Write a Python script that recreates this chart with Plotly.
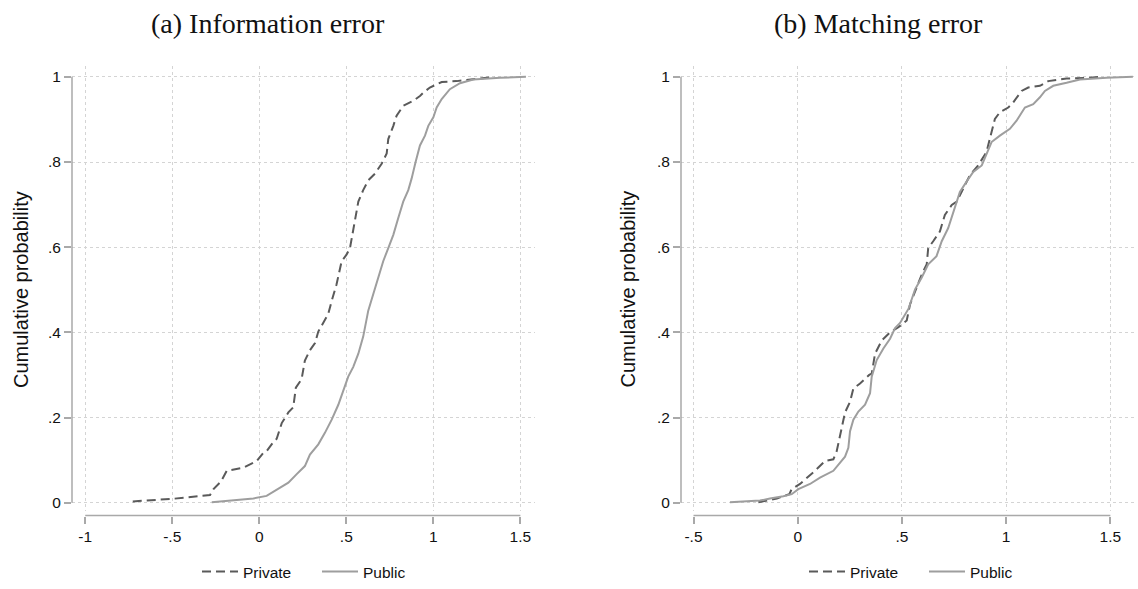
import plotly.graph_objects as go

# ---------------- data ----------------
info_private_x = [-0.727, -0.5, -0.283, -0.263, -0.22, -0.187, -0.092, -0.034, -0.015, 0.023, 0.042, 0.080, 0.1,
                  0.129, 0.167, 0.195, 0.21, 0.243, 0.262, 0.291, 0.32, 0.339, 0.396, 0.416, 0.444, 0.473, 0.502,
                  0.521, 0.540, 0.569, 0.597, 0.626, 0.665, 0.703, 0.732, 0.741, 0.770, 0.789, 0.827, 0.885, 0.923,
                  0.943, 0.980, 1.048, 1.134, 1.2, 1.25, 1.35]
info_private_y = [0.003, 0.009, 0.018, 0.032, 0.05, 0.075, 0.082, 0.094, 0.098, 0.117, 0.121, 0.142, 0.150,
                  0.187, 0.212, 0.224, 0.27, 0.29, 0.334, 0.358, 0.375, 0.402, 0.443, 0.474, 0.513, 0.567, 0.583,
                  0.598, 0.645, 0.707, 0.734, 0.757, 0.773, 0.796, 0.820, 0.854, 0.885, 0.909, 0.932, 0.944, 0.955,
                  0.963, 0.975, 0.988, 0.990, 0.993, 0.997, 1.0]

info_public_x = [-0.273, -0.149, -0.034, 0.042, 0.1, 0.167, 0.215, 0.262, 0.291, 0.339, 0.377, 0.416, 0.454,
                 0.483, 0.511, 0.540, 0.569, 0.597, 0.626, 0.655, 0.684, 0.712, 0.741, 0.770, 0.798, 0.827, 0.856,
                 0.875, 0.898, 0.923, 0.952, 0.971, 1.0, 1.019, 1.048, 1.095, 1.153, 1.229, 1.383, 1.532]
info_public_y = [0.001, 0.005, 0.01, 0.016, 0.030, 0.047, 0.067, 0.086, 0.113, 0.137, 0.164, 0.195, 0.230,
                 0.265, 0.296, 0.319, 0.350, 0.390, 0.451, 0.490, 0.529, 0.567, 0.598, 0.629, 0.668, 0.707, 0.734,
                 0.761, 0.800, 0.839, 0.862, 0.885, 0.905, 0.928, 0.948, 0.971, 0.985, 0.994, 0.998, 1.0]

match_private_x = [-0.189, -0.1, -0.04, -0.029, 0.011, 0.083, 0.131, 0.171, 0.187, 0.211, 0.227, 0.251, 0.267,
                   0.299, 0.343, 0.355, 0.371, 0.403, 0.443, 0.483, 0.523, 0.539, 0.563, 0.595, 0.619, 0.626,
                   0.650, 0.682, 0.706, 0.739, 0.763, 0.787, 0.826, 0.866, 0.906, 0.922, 0.946, 0.970, 1.010,
                   1.034, 1.074, 1.106, 1.162, 1.202, 1.290, 1.402, 1.45]
match_private_y = [0.001, 0.01, 0.02, 0.032, 0.044, 0.075, 0.098, 0.102, 0.121, 0.179, 0.212, 0.237, 0.268,
                   0.280, 0.300, 0.303, 0.350, 0.381, 0.400, 0.412, 0.428, 0.466, 0.498, 0.536, 0.560, 0.598,
                   0.614, 0.637, 0.676, 0.699, 0.707, 0.730, 0.769, 0.792, 0.824, 0.855, 0.901, 0.917, 0.928,
                   0.940, 0.967, 0.975, 0.979, 0.990, 0.996, 0.998, 1.0]

match_public_x = [-0.325, -0.181, -0.133, -0.069, -0.029, 0.003, 0.059, 0.107, 0.171, 0.203, 0.227, 0.243,
                  0.251, 0.267, 0.291, 0.323, 0.347, 0.355, 0.379, 0.411, 0.443, 0.467, 0.491, 0.531, 0.563,
                  0.595, 0.626, 0.666, 0.691, 0.722, 0.754, 0.778, 0.810, 0.842, 0.883, 0.906, 0.930, 0.970,
                  1.018, 1.050, 1.090, 1.130, 1.162, 1.186, 1.226, 1.290, 1.354, 1.482, 1.608]
match_public_y = [0.001, 0.005, 0.01, 0.015, 0.02, 0.032, 0.044, 0.059, 0.075, 0.095, 0.108, 0.129,
                  0.168, 0.195, 0.214, 0.230, 0.257, 0.296, 0.335, 0.362, 0.385, 0.41, 0.422, 0.455, 0.501,
                  0.529, 0.560, 0.579, 0.614, 0.645, 0.692, 0.730, 0.754, 0.777, 0.792, 0.820, 0.847, 0.862,
                  0.878, 0.897, 0.928, 0.936, 0.952, 0.967, 0.979, 0.986, 0.994, 0.998, 1.0]

panel_titles = ["(a) Information error", "(b) Matching error"]
series_names = ["Private", "Public"]
y_title = "Cumulative probability"
y_tickvals = [0, 0.2, 0.4, 0.6, 0.8, 1]
y_ticktext = ["0", ".2", ".4", ".6", ".8", "1"]
x1_tickvals = [-1, -0.5, 0, 0.5, 1, 1.5]
x1_ticktext = ["-1", "-.5", "0", ".5", "1", "1.5"]
x2_tickvals = [-0.5, 0, 0.5, 1, 1.5]
x2_ticktext = ["-.5", "0", ".5", "1", "1.5"]

# ---------------- layout geometry ----------------
W, H = 1138, 589
def px_x(p): return p / W
def px_y(p): return 1 - p / H

dom_y = [px_y(515), px_y(67)]
dom_x1 = [px_x(72), px_x(535)]
dom_x2 = [px_x(681), px_x(1136)]
yrange = [-0.0186, 1.0245]
x1range = [-1.076, 1.584]
x2range = [-0.560, 1.623]
xaxis_pos = px_y(520)

SANS = "Liberation Sans, Arial, sans-serif"
SERIF = "Liberation Serif, Times New Roman, serif"
AX = "#a9a9a9"
GRID = "#d4d4d4"
PRIV = "#5a5a5a"
PUB = "#9e9e9e"

fig = go.Figure()
def add(xs, ys, name, xa, ya, leg, dash, color):
    fig.add_trace(go.Scatter(x=xs, y=ys, mode="lines", name=name, xaxis=xa, yaxis=ya, legend=leg,
                             line=dict(color=color, width=2, dash=dash), hoverinfo="skip"))

add(info_private_x, info_private_y, series_names[0], "x", "y", "legend", "9px,5px", PRIV)
add(info_public_x, info_public_y, series_names[1], "x", "y", "legend", "solid", PUB)
add(match_private_x, match_private_y, series_names[0], "x2", "y2", "legend2", "9px,5px", PRIV)
add(match_public_x, match_public_y, series_names[1], "x2", "y2", "legend2", "solid", PUB)

tickfont = dict(family=SANS, size=15.5, color="#111")
def xax(dom, rng, tv, tt):
    return dict(domain=dom, range=rng, anchor="free", position=xaxis_pos, showline=False,
                tickmode="array", tickvals=tv, ticktext=tt, ticks="outside", ticklen=7, tickwidth=1.5,
                tickcolor=AX, tickfont=tickfont, showgrid=True, gridcolor=GRID, gridwidth=1, griddash="dot",
                zeroline=False, fixedrange=True)
def yax(anchor, rng):
    return dict(domain=dom_y, range=rng, anchor=anchor, showline=False, tickmode="array",
                tickvals=y_tickvals, ticktext=y_ticktext, ticks="outside", ticklen=7, tickwidth=1.5,
                tickcolor=AX, tickfont=tickfont, showgrid=True, gridcolor=GRID, gridwidth=1, griddash="dot",
                zeroline=False, fixedrange=True)

leg_common = dict(orientation="h", yanchor="middle", font=dict(family=SANS, size=15.5, color="#111"),
                  bgcolor="rgba(0,0,0,0)", itemwidth=36, entrywidth=69, entrywidthmode="pixels",
                  tracegroupgap=0)
fig.update_layout(
    width=W, height=H, margin=dict(l=0, r=0, t=0, b=0),
    paper_bgcolor="white", plot_bgcolor="white",
    xaxis=xax(dom_x1, x1range, x1_tickvals, x1_ticktext),
    yaxis=yax("x", yrange),
    xaxis2=xax(dom_x2, x2range, x2_tickvals, x2_ticktext),
    yaxis2=yax("x2", yrange),
    legend=dict(x=px_x(197), xanchor="left", y=px_y(577), **leg_common),
    legend2=dict(x=px_x(804), xanchor="left", y=px_y(577), **leg_common),
    showlegend=True,
)

# axis lines (Stata style: spanning only the labelled tick range)
for xa, ya, xdom, xt in [("x", "y", dom_x1, x1_tickvals), ("x2", "y2", dom_x2, x2_tickvals)]:
    fig.add_shape(type="line", xref=xa, yref="paper", x0=min(xt), x1=max(xt), y0=xaxis_pos, y1=xaxis_pos,
                  line=dict(color=AX, width=1.5), layer="above")
    fig.add_shape(type="line", xref="paper", yref=ya, x0=xdom[0], x1=xdom[0], y0=min(y_tickvals),
                  y1=max(y_tickvals), line=dict(color=AX, width=1.5), layer="above")

# panel titles and y-axis titles
for cx, t in zip([px_x(268), px_x(878)], panel_titles):
    fig.add_annotation(text=t, x=cx, y=px_y(24), xref="paper", yref="paper", showarrow=False,
                       xanchor="center", yanchor="middle", font=dict(family=SERIF, size=28, color="#111"))
for cx in [px_x(20.5), px_x(628)]:
    fig.add_annotation(text=y_title, x=cx, y=px_y(292), xref="paper", yref="paper", showarrow=False,
                       textangle=-90, xanchor="center", yanchor="middle",
                       font=dict(family=SANS, size=20, color="#111"))

fig.write_html("out.html")
